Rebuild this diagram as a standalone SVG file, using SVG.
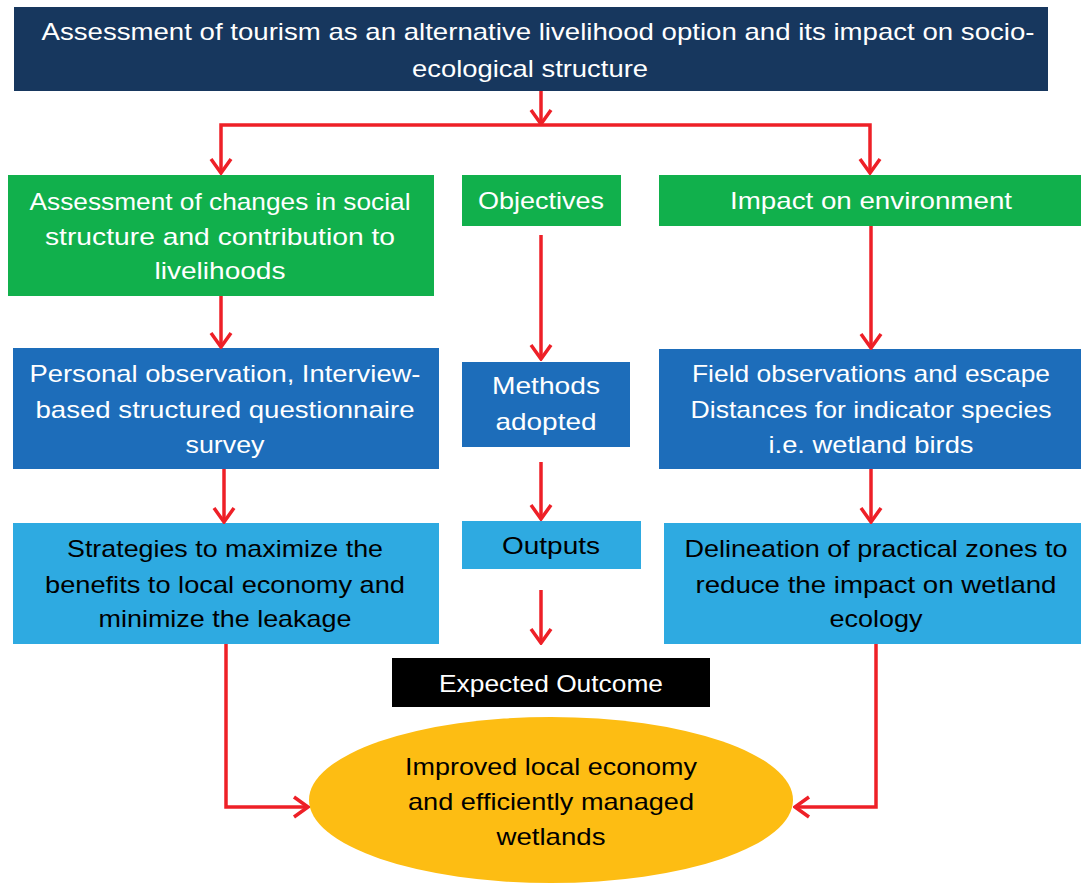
<svg xmlns="http://www.w3.org/2000/svg" width="1081" height="884" viewBox="0 0 1081 884">
<style>
text{font-family:"Liberation Sans",Arial,sans-serif;font-size:24px;text-anchor:middle}
.w{fill:#ffffff}.k{fill:#000000}
.navy{fill:#17375E}.green{fill:#11B04C}.blue{fill:#1D6DBA}.lblue{fill:#2EAAE1}
.conn{fill:none;stroke:#EE2027;stroke-width:3.5;stroke-linejoin:miter}
</style>
<defs>
<marker id="ah" markerUnits="userSpaceOnUse" viewBox="-17 -12 19 24" refX="0" refY="0" markerWidth="19" markerHeight="24" orient="auto">
<path d="M-14,-10 L0,0 L-14,10" fill="none" stroke="#EE2027" stroke-width="3.5"/>
</marker>
</defs>
<rect width="1081" height="884" fill="#ffffff"/>
<g id="top">
<rect class="navy" x="14" y="7" width="1034" height="84"/>
<text class="w" x="538" y="40" textLength="993" lengthAdjust="spacingAndGlyphs">Assessment of tourism as an alternative livelihood option and its impact on socio-</text>
<text class="w" x="530" y="77" textLength="236" lengthAdjust="spacingAndGlyphs">ecological structure</text>
</g>
<g id="social">
<rect class="green" x="8" y="175" width="426" height="121"/>
<text class="w" x="220" y="210" textLength="381" lengthAdjust="spacingAndGlyphs">Assessment of changes in social</text>
<text class="w" x="220" y="245" textLength="350" lengthAdjust="spacingAndGlyphs">structure and contribution to</text>
<text class="w" x="220" y="279" textLength="131" lengthAdjust="spacingAndGlyphs">livelihoods</text>
</g>
<g id="objectives">
<rect class="green" x="462" y="175" width="159" height="51"/>
<text class="w" x="541" y="209" textLength="126" lengthAdjust="spacingAndGlyphs">Objectives</text>
</g>
<g id="environment">
<rect class="green" x="659" y="175" width="422" height="51"/>
<text class="w" x="871" y="209" textLength="282" lengthAdjust="spacingAndGlyphs">Impact on environment</text>
</g>
<g id="survey">
<rect class="blue" x="13" y="348" width="426" height="121"/>
<text class="w" x="225" y="382" textLength="391" lengthAdjust="spacingAndGlyphs">Personal observation, Interview-</text>
<text class="w" x="225" y="418" textLength="379" lengthAdjust="spacingAndGlyphs">based structured questionnaire</text>
<text class="w" x="225" y="453" textLength="79" lengthAdjust="spacingAndGlyphs">survey</text>
</g>
<g id="methods">
<rect class="blue" x="462" y="362" width="168" height="85"/>
<text class="w" x="546" y="394" textLength="108" lengthAdjust="spacingAndGlyphs">Methods</text>
<text class="w" x="546" y="430" textLength="101" lengthAdjust="spacingAndGlyphs">adopted</text>
</g>
<g id="field">
<rect class="blue" x="659" y="349" width="422" height="120"/>
<text class="w" x="871" y="382" textLength="358" lengthAdjust="spacingAndGlyphs">Field observations and escape</text>
<text class="w" x="871" y="418" textLength="361" lengthAdjust="spacingAndGlyphs">Distances for indicator species</text>
<text class="w" x="871" y="453" textLength="205" lengthAdjust="spacingAndGlyphs">i.e. wetland birds</text>
</g>
<g id="strategies">
<rect class="lblue" x="13" y="523" width="426" height="121"/>
<text class="k" x="225" y="557" textLength="316" lengthAdjust="spacingAndGlyphs">Strategies to maximize the</text>
<text class="k" x="225" y="593" textLength="360" lengthAdjust="spacingAndGlyphs">benefits to local economy and</text>
<text class="k" x="225" y="627" textLength="253" lengthAdjust="spacingAndGlyphs">minimize the leakage</text>
</g>
<g id="outputs">
<rect class="lblue" x="462" y="521" width="179" height="48"/>
<text class="k" x="551" y="554" textLength="98" lengthAdjust="spacingAndGlyphs">Outputs</text>
</g>
<g id="delineation">
<rect class="lblue" x="664" y="523" width="417" height="121"/>
<text class="k" x="876" y="557" textLength="383" lengthAdjust="spacingAndGlyphs">Delineation of practical zones to</text>
<text class="k" x="876" y="593" textLength="361" lengthAdjust="spacingAndGlyphs">reduce the impact on wetland</text>
<text class="k" x="876" y="627" textLength="93" lengthAdjust="spacingAndGlyphs">ecology</text>
</g>
<g id="expected">
<rect class="k" x="392" y="658" width="318" height="49"/>
<text class="w" x="551" y="692" textLength="224" lengthAdjust="spacingAndGlyphs">Expected Outcome</text>
</g>
<g id="outcome">
<ellipse cx="551" cy="800" rx="242" ry="83" fill="#FDBD13"/>
<text class="k" x="551" y="775" textLength="292" lengthAdjust="spacingAndGlyphs">Improved local economy</text>
<text class="k" x="551" y="810" textLength="286" lengthAdjust="spacingAndGlyphs">and efficiently managed</text>
<text class="k" x="551" y="845" textLength="109" lengthAdjust="spacingAndGlyphs">wetlands</text>
</g>
<g id="connectors">
<path class="conn" d="M541,91 V124" marker-end="url(#ah)"/>
<path class="conn" d="M541,125 H221 V173" marker-end="url(#ah)"/>
<path class="conn" d="M541,125 H870 V173" marker-end="url(#ah)"/>
<path class="conn" d="M221,296 V347" marker-end="url(#ah)"/>
<path class="conn" d="M541,235 V359" marker-end="url(#ah)"/>
<path class="conn" d="M871,226 V348" marker-end="url(#ah)"/>
<path class="conn" d="M224,469 V522" marker-end="url(#ah)"/>
<path class="conn" d="M541,462 V519" marker-end="url(#ah)"/>
<path class="conn" d="M871,469 V522" marker-end="url(#ah)"/>
<path class="conn" d="M541,590 V643" marker-end="url(#ah)"/>
<path class="conn" d="M226,644 V807 H308" marker-end="url(#ah)"/>
<path class="conn" d="M876,644 V807 H795" marker-end="url(#ah)"/>
</g>
</svg>
